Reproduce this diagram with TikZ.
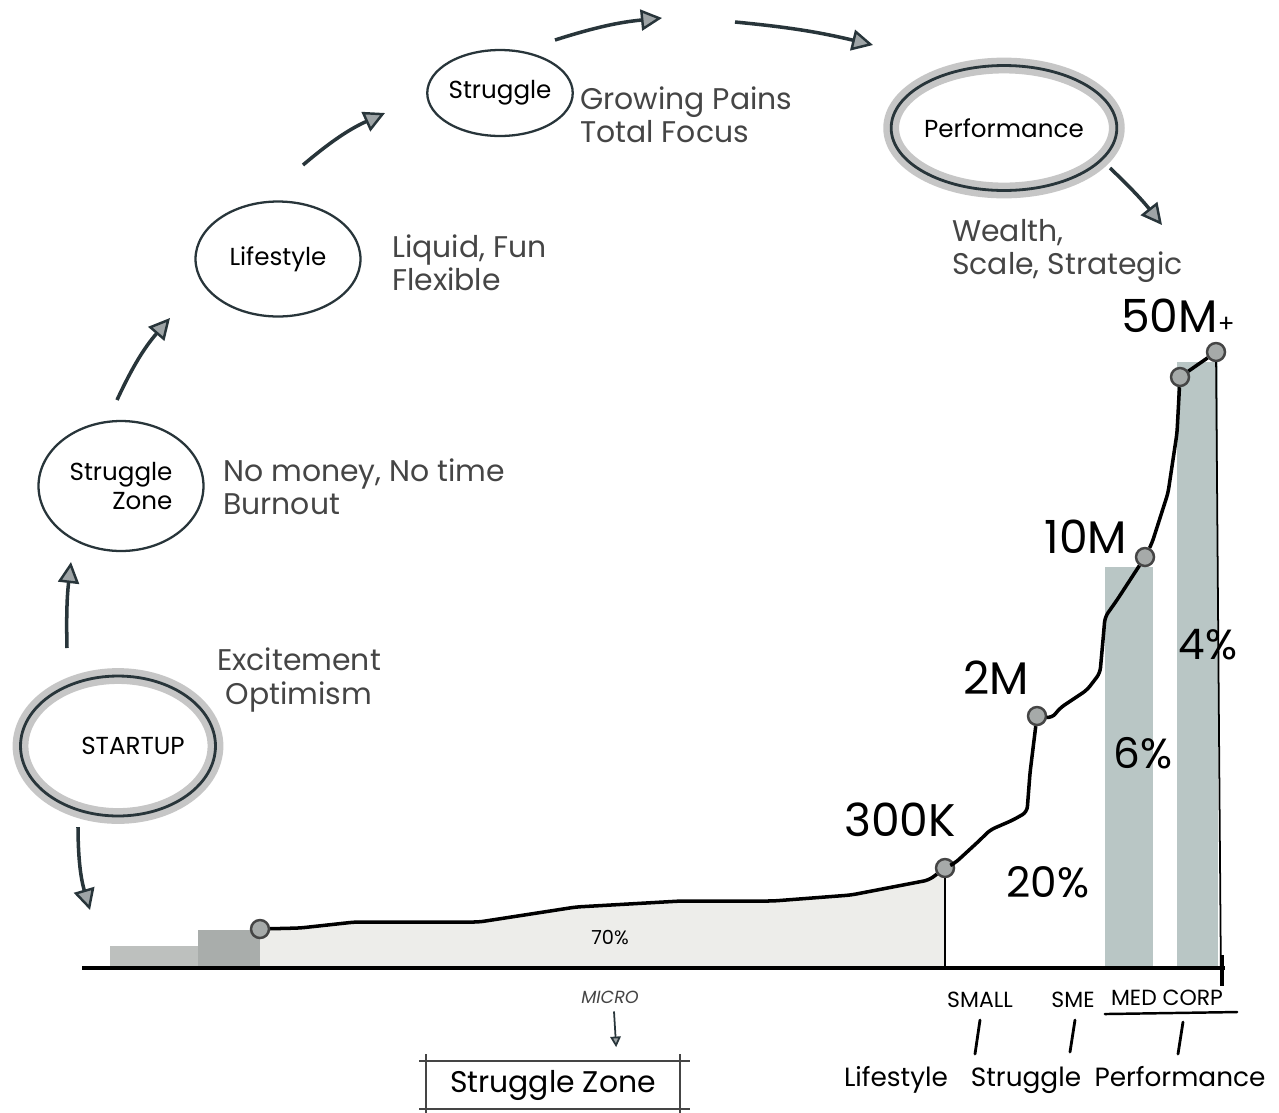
\documentclass[tikz,border=0pt]{standalone}
\usepackage{fontspec}
\setmainfont{Poppins}
\usetikzlibrary{arrows.meta,shapes.geometric,calc}

\definecolor{ink}{HTML}{28353A}
\definecolor{pencil}{HTML}{454545}
\definecolor{smudge}{HTML}{8E8E8E}
\definecolor{barblue}{HTML}{B9C6C5}
\definecolor{stepgray}{HTML}{BDC0BE}
\definecolor{stepdark}{HTML}{A9ADAB}
\definecolor{areagray}{HTML}{EDEDEA}
\definecolor{dotgray}{HTML}{A6AAA9}

\tikzset{
  ring/.style={ellipse, draw=ink, line width=1.3pt, inner sep=0pt, text=black, font=\fontsize{14}{16}\selectfont},
  bigring/.style={ring, line width=1.6pt, preaction={draw=smudge, line width=9pt, opacity=0.5}},
  flow/.style={draw=ink, line width=2pt, -{Triangle[length=12pt, width=12pt, fill=ink!45, line width=1.4pt]}},
  note/.style={text=pencil, align=left, anchor=west, font=\fontsize{17}{19}\selectfont},
  bignum/.style={text=black, font=\fontsize{26}{28}\selectfont},
  share/.style={text=black, font=\fontsize{24}{26}\selectfont},
  dot/.style={circle, draw=pencil, fill=dotgray, line width=1.4pt, minimum size=0.36cm, inner sep=0pt},
  curve/.style={draw=black, line width=2pt, rounded corners=3pt},
  sizelabel/.style={text=black, font=\fontsize{12.5}{13}\selectfont},
  stagelabel/.style={text=black, anchor=base, font=\fontsize{15}{17}\selectfont},
  brush/.style={draw=black, line width=1.6pt, line cap=round},
  sketch/.style={draw=pencil, line width=0.8pt},
}

\begin{document}
\begin{tikzpicture}[x=0.02cm, y=-0.02cm]
\useasboundingbox (0,0) rectangle (1279,1113);

% stages of the journey
\node[bigring, minimum width=3.9cm, minimum height=2.8cm] (startup) at (118,746) {\hspace*{0.6cm}STARTUP};
\node[ring, minimum width=3.3cm, minimum height=2.6cm, align=right] (szone) at (121,486) {Struggle\\Zone};
\node[ring, minimum width=3.3cm, minimum height=2.3cm] (life) at (278,259) {Lifestyle};
\node[ring, minimum width=2.65cm, minimum height=1.72cm] (strug) at (500,93) {Struggle};
\node[bigring, minimum width=4.0cm, minimum height=2.5cm] (perf) at (1004,128) {Performance};

\node[note, anchor=center, align=center] (excite) at (299,680) {Excitement\\Optimism};
\node[note] (nomoney) at (217,487) {No money, No time\\Burnout};
\node[note] (liquid) at (386,263) {Liquid, Fun\\Flexible};
\node[note] (growing) at (574,115) {Growing Pains\\Total Focus};
\node[note] (wealth) at (946,251) {Wealth,\\Scale, Strategic};

\coordinate (down1) at (78,827);   \coordinate (down2) at (90,910);
\coordinate (up1a) at (67,648);    \coordinate (up1b) at (71,562);
\coordinate (up2a) at (117,400);   \coordinate (up2b) at (170,318);
\coordinate (up3a) at (303,165);   \coordinate (up3b) at (385,113);
\coordinate (top1a) at (555,40);   \coordinate (top1b) at (662,18);
\coordinate (top2a) at (735,22);   \coordinate (top2b) at (873,45);
\coordinate (out1) at (1110,168);  \coordinate (out2) at (1162,225);

\draw[flow] (down1) to[bend right=8] (down2);
\draw[flow] (up1a) to[bend left=4] (up1b);
\draw[flow] (up2a) to[bend left=8] (up2b);
\draw[flow] (up3a) to[bend left=8] (up3b);
\draw[flow] (top1a) to[bend left=6] (top1b);
\draw[flow] (top2a) to[bend left=4] (top2b);
\draw[flow] (out1) to[bend left=4] (out2);

% chart
\coordinate (axisL) at (82,968);
\coordinate (axisR) at (1225,968);

\fill[stepgray] (110,946) rectangle (198,968);
\fill[stepdark] (198,930) rectangle (268,968);
\fill[areagray] (260,968) -- (260,929) -- (300,928) -- (355,922) -- (479,922) -- (576,907) -- (681,901) -- (773,901) -- (851,895) -- (929,880) -- (945,869) -- (945,968) -- cycle;
\fill[barblue] (1105,567) rectangle (1153,968);
\fill[barblue] (1177,362) rectangle (1218,968);

\node[dot] (d0) at (260,929) {};
\node[dot] (d1) at (945,868) {};
\node[dot] (d2) at (1037,716) {};
\node[dot] (d3) at (1145,557) {};
\node[dot] (d4) at (1180,377) {};
\node[dot] (d5) at (1216,352) {};

\draw[curve] (d0) -- (300,928) -- (355,922) -- (479,922) -- (576,907) -- (681,901) -- (773,901) -- (851,895) -- (929,880) -- (d1);
\draw[curve] (d1) -- (955,863) -- (980,840) -- (990,830) -- (1013,820) -- (1027,812) -- (1030,773) -- (d2);
\draw[curve] (d2) -- (1052,718) -- (1060,708) -- (1087,690) -- (1100,673) -- (1103,640) -- (1105,617) -- (1117,600) -- (d3);
\draw[curve] (d3) -- (1152,543) -- (1168,493) -- (1177,433) -- (d4);
\draw[curve] (d4) -- (d5);

\draw[line width=1pt] (d1) -- (d1 |- axisL);
\draw[line width=2pt] (axisL) -- (axisR);
\draw[line width=1pt] (d5) -- (1221,985);
\draw[line width=2.4pt] (1222,955) -- (1222,986);

\node[bignum] (k300) at (900,820) {300K};
\node[bignum] (m2) at (996,678) {2M};
\node[bignum] (m10) at (1086,537) {10M};
\node[bignum] (m50) at (1178,316) {50M{\fontsize{14}{14}\selectfont+}};
\node[text=black, font=\fontsize{11}{12}\selectfont] (p70) at (610,938) {70\%};
\node[share] (p20) at (1048,882) {20\%};
\node[share] (p6) at (1143,753) {6\%};
\node[share] (p4) at (1208,645) {4\%};

% company sizes
\node[sizelabel] (small) at (980,1000) {SMALL};
\node[sizelabel] (sme) at (1073,1000) {SME};
\node[sizelabel] (medcorp) at (1167,998) {MED CORP};
\draw[line width=1.4pt, line cap=round] ($(medcorp.south west)+(0,2)$) -- ($(medcorp.south east)+(8,0)$);

\node[stagelabel] (lifes) at (896,1086) {Lifestyle};
\node[stagelabel] (strugs) at (1026,1086) {Struggle};
\node[stagelabel] (perfs) at (1180,1086) {Performance};

\draw[brush] (small.south) ++(0,6) -- ++(-5,34);
\draw[brush] (sme.south) ++(2,6) -- ++(-5,32);
\draw[brush] (medcorp.south) ++(16,10) -- ++(-5,32);

\node[text=pencil, font=\itshape\fontsize{10}{11}\selectfont] (micro) at (610,997) {MICRO};
\node[text=black, font=\fontsize{17}{19}\selectfont, minimum width=5.06cm, minimum height=0.94cm] (zonebox) at (553,1085) {Struggle Zone};
\draw[sketch] ($(zonebox.north west)+(-7,0)$) -- ($(zonebox.north east)+(10,0)$);
\draw[sketch] ($(zonebox.south west)+(-7,0)$) -- ($(zonebox.south east)+(10,0)$);
\draw[sketch] ($(zonebox.north west)+(0,-7)$) -- ($(zonebox.south west)+(0,5)$);
\draw[sketch] ($(zonebox.north east)+(0,-7)$) -- ($(zonebox.south east)+(0,5)$);
\draw[draw=ink, line width=1pt, -{Triangle[length=6pt, width=6pt, fill=ink!45]}, shorten >=8pt] ($(micro.south)+(4,2)$) -- ($(micro.south |- zonebox.north)+(7,0)$);

\end{tikzpicture}
\end{document}
